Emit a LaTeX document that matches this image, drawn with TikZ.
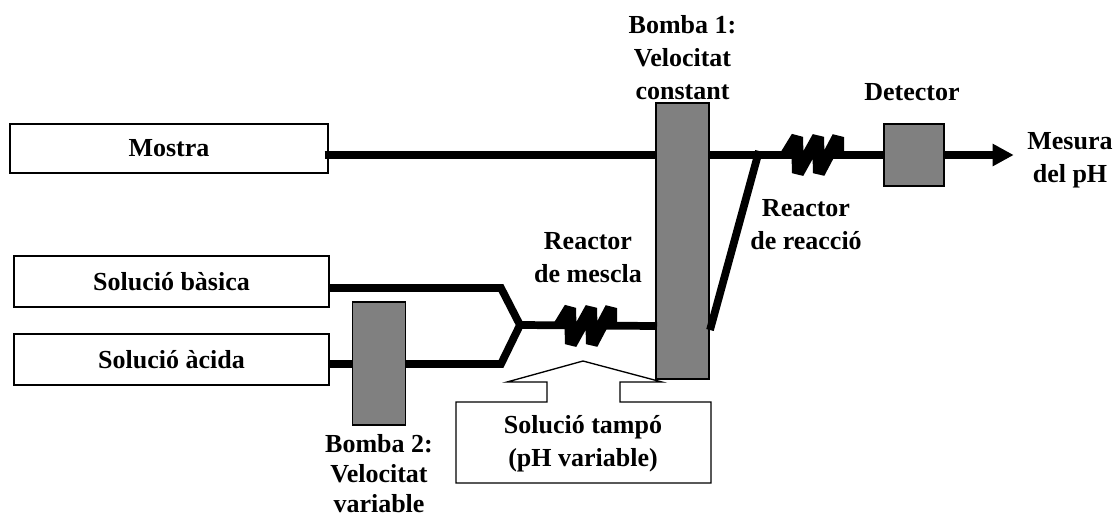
\documentclass[tikz,border=0pt]{standalone}
\usepackage{fontspec}
\setmainfont{Liberation Serif}
\usepackage{tikz}
\usetikzlibrary{arrows.meta, positioning}

\begin{document}
\begin{tikzpicture}[
    x=0.75pt, y=-0.75pt,
    every node/.style={align=center, font=\bfseries\fontsize{19.5}{24.75}\selectfont},
    source/.style={rectangle, draw, fill=white, line width=1pt, inner sep=0pt},
    pump/.style={rectangle, draw, fill=black!50, line width=1.1pt, minimum width=39.5pt, inner sep=0pt},
    pipe/.style={line width=5.8pt, line join=miter},
    arrow/.style={-{Triangle[length=15.75pt, width=15.75pt]}, line width=6pt},
    coil/.pic={
        \draw[line width=9pt, line join=bevel] (-27,0) -- (-16,-18) -- (-15,18) -- (5,-18) -- (6,18) -- (25,-18) -- (25,0);
    }
]
\useasboundingbox (0,0) rectangle (1115,519);

% Junctions
\coordinate (mainline) at (0,155);
\coordinate (basicbend) at (501,288);
\coordinate (acidbend) at (501,364);
\coordinate (joint) at (520,325);
\coordinate (mixin) at (657,326);
\coordinate (reacttop) at (759,151);
\coordinate (reactbottom) at (710,330);

% Nodes
\node[source, minimum width=238.5pt, minimum height=36.75pt] (mostra) at (169,148.5) {Mostra};
\node[source, minimum width=236.25pt, minimum height=38.25pt] (basica) at (171.5,281.5) {Solució bàsica};
\node[source, minimum width=236.25pt, minimum height=38.25pt] (acida) at (171.5,359.5) {Solució àcida};
\node[pump, minimum height=207pt] (pumpone) at (682.5,241) {};
\node[pump, minimum height=92pt] (pumptwo) at (379,363.5) {};
\node[pump, minimum width=45pt, minimum height=46.5pt] (detector) at (914,155) {};

% Pipes
\draw[pipe, shorten <=-3pt] (mostra.east |- mainline) -- (pumpone.west |- mainline);
\draw[pipe] (pumpone.east |- mainline) -- (detector.west |- mainline);
\draw[arrow] (detector.east |- mainline) -- +(69,0) coordinate (outlet);
\draw[pipe] (basica.east |- basicbend) -- (basicbend) -- (joint) -- (acidbend) -- (pumptwo.east |- acidbend);
\draw[pipe] (acida.east |- acidbend) -- (pumptwo.west |- acidbend);
\draw[pipe] (joint) -- (mixin);
\draw[pipe] (reactbottom) -- (reacttop);

% Reactors
\path (586,326) pic {coil};
\path (813,155) pic {coil};

% Buffer
\draw[line width=1pt, fill=white] (456,402) -- (547,402) -- (547,382) -- (507,382) -- (583,361) -- (662,382) -- (620,382) -- (620,402) -- (711,402) -- (711,483) -- (456,483) -- cycle;
\node[inner sep=0pt] (tampo) at (583,444) {Solució tampó\\(pH variable)};

% Labels
\node[inner sep=0pt, above=1.5pt of pumpone] (labelone) {Bomba 1:\\Velocitat\\constant};
\node[inner sep=0pt, below=6.5pt of pumptwo, font=\bfseries\fontsize{19.5}{22.5}\selectfont] (labeltwo) {Bomba 2:\\Velocitat\\variable};
\node[inner sep=0pt, above=16.5pt of detector, xshift=-1.5pt] (labeldetector) {Detector};
\node[inner sep=0pt] (labeloutlet) at (1070,160) {Mesura\\del pH};
\node[inner sep=0pt] (labelmix) at (588,258) {Reactor\\de mescla};
\node[inner sep=0pt] (labelreact) at (806,225) {Reactor\\de reacció};

\end{tikzpicture}
\end{document}
